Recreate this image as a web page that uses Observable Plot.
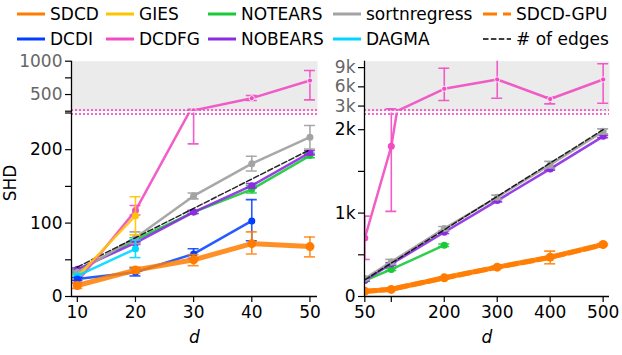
<!DOCTYPE html>
<html><head><meta charset="utf-8">
<script src="https://cdn.jsdelivr.net/npm/d3@7"></script>
<script src="https://cdn.jsdelivr.net/npm/@observablehq/plot@0.6"></script>
<style>
body{margin:0;background:#fff;}
#fig{position:relative;width:622px;height:355px;font-family:"DejaVu Sans",sans-serif;overflow:hidden;background:#fff;}
.pane{position:absolute;}
.pane svg{font-family:"DejaVu Sans",sans-serif !important;font-size:17px !important;}
.leg{position:absolute;font-size:17px;line-height:17px;white-space:nowrap;color:#000;}
.ylab{position:absolute;font-size:17px;transform:translate(-50%,-50%) rotate(-90deg);white-space:nowrap;}
</style></head><body><div id="fig"></div>
<script>
// ---------- data ----------
const legendOrder = ["SDCD","DCDI","GIES","DCDFG","NOTEARS","NOBEARS","sortnregress","DAGMA","SDCD-GPU","# of edges"];
const seriesColors = ["#ff7c00","#023eff","#ffc400","#f14cc1","#1ac938","#8b2be2","#a3a3a3","#00d7ff","#ff7c00","#000000"];

const dSmall = [10, 20, 30, 40, 50];
const dLarge = [50, 100, 200, 300, 400, 500];
const xTicksSmall = [10, 20, 30, 40, 50];
const xTicksLarge = [50, 100, 200, 300, 400, 500];

// left panel (d = 10..50)
const sdcdL = [15, 36, 50, 72, 68],        sdcdLLo = [11, 32, 42, 58, 54],      sdcdLHi = [19, 40, 57, 88, 81];
const dcdiL = [24, 33, 58, 103, null],     dcdiLLo = [22, 28, 52, 76, null],    dcdiLHi = [26, 39, 65, 132, null];
const giesL = [27, 110, null, null, null], giesLLo = [25, 84, null, null, null], giesLHi = [29, 136, null, null, null];
const dcdfgL = [20, 117, 262, 445, 710],   dcdfgLLo = [18, 111, 208, 410, 420], dcdfgLHi = [22, 124, 280, 485, 860];
const notearsL = [35, 77, 115, 146, 192],  notearsLLo = [33, 74, 113, 141, 189], notearsLHi = [37, 80, 117, 151, 195];
const nobearsL = [37, 73, 115, 151, 196],  nobearsLLo = [35, 71, 113, 148, 193], nobearsLHi = [39, 75, 117, 154, 199];
const sortL = [33, 80, 137, 181, 217],     sortLLo = [31, 72, 133, 171, 201],   sortLHi = [35, 88, 141, 191, 233];
const dagmaL = [28, 65, null, null, null], dagmaLLo = [26, 53, null, null, null], dagmaLHi = [30, 77, null, null, null];
const edgesL = [40, 80, 120, 160, 200];

// right panel (d = 50..500)
const sdcdR = [64, 85, 224, 352, 472, 624],   sdcdRLo = [58, 78, 214, 340, 392, 612], sdcdRHi = [70, 92, 234, 364, 544, 636];
const gpuR = [60, 88, 222, 350, 468, 620];
const notearsR = [192, 325, 615, null, null, null], notearsRLo = [185, 312, 600, null, null, null], notearsRHi = [199, 338, 630, null, null, null];
const nobearsR = [195, 390, 770, 1150, 1530, 1920], nobearsRLo = [182, 375, 755, 1135, 1515, 1905], nobearsRHi = [208, 405, 785, 1165, 1545, 1935];
const sortR = [215, 415, 815, 1190, 1580, 1980],    sortRLo = [200, 385, 790, 1165, 1540, 1950], sortRHi = [230, 445, 840, 1215, 1620, 2010];
const dcdfgR = [700, 1800, 5700, 7150, 4100, 7150], dcdfgRLo = [444, 1020, 3870, 4230, 3350, 3450], dcdfgRHi = [964, 2570, 8900, 10500, 4380, 9600];
const edgesR = [200, 400, 800, 1200, 1600, 2000];

// ---------- helpers ----------
const colorOf = Object.fromEntries(legendOrder.map((m, i) => [m, seriesColors[i]]));
const PINK = colorOf["DCDFG"];
const FS = 17;
const look = {
  "SDCD": {w: 5, r: 4.5, op: 0.85},
  "SDCD-GPU": {w: 5, r: 0, op: 0.9, dash: "11,5"},
  "DCDI": {w: 2.5, r: 3.5, op: 0.85},
  "GIES": {w: 2.5, r: 3.5, op: 0.9},
  "DCDFG": {w: 2.5, r: 3.5, op: 0.9},
  "NOTEARS": {w: 2.5, r: 3.5, op: 0.9},
  "NOBEARS": {w: 2.5, r: 3.5, op: 0.9},
  "sortnregress": {w: 2.5, r: 3.5, op: 0.95},
  "DAGMA": {w: 2.5, r: 3.5, op: 0.9},
  "# of edges": {w: 1.5, r: 0, op: 0.85, dash: "5.5,2.4"}
};
function rows(d, mean, lo, hi) {
  return d.map((x, i) => ({d: x, mean: mean[i], lo: lo ? lo[i] : null, hi: hi ? hi[i] : null}))
          .filter(r => r.mean != null);
}
const leftSeries = [
  {name: "NOTEARS", rows: rows(dSmall, notearsL, notearsLLo, notearsLHi)},
  {name: "NOBEARS", rows: rows(dSmall, nobearsL, nobearsLLo, nobearsLHi)},
  {name: "sortnregress", rows: rows(dSmall, sortL, sortLLo, sortLHi)},
  {name: "# of edges", rows: rows(dSmall, edgesL)},
  {name: "DCDFG", rows: rows(dSmall, dcdfgL, dcdfgLLo, dcdfgLHi)},
  {name: "GIES", rows: rows(dSmall, giesL, giesLLo, giesLHi)},
  {name: "DAGMA", rows: rows(dSmall, dagmaL, dagmaLLo, dagmaLHi)},
  {name: "DCDI", rows: rows(dSmall, dcdiL, dcdiLLo, dcdiLHi)},
  {name: "SDCD", rows: rows(dSmall, sdcdL, sdcdLLo, sdcdLHi)}
];
const rightSeries = [
  {name: "NOTEARS", rows: rows(dLarge, notearsR, notearsRLo, notearsRHi)},
  {name: "NOBEARS", rows: rows(dLarge, nobearsR, nobearsRLo, nobearsRHi)},
  {name: "sortnregress", rows: rows(dLarge, sortR, sortRLo, sortRHi)},
  {name: "# of edges", rows: rows(dLarge, edgesR)},
  {name: "DCDFG", rows: rows(dLarge, dcdfgR, dcdfgRLo, dcdfgRHi)},
  {name: "SDCD", rows: rows(dLarge, sdcdR, sdcdRLo, sdcdRHi)},
  {name: "SDCD-GPU", rows: rows(dLarge, gpuR)}
];

function subplot(o) {
  const marks = [];
  if (o.top) marks.push(Plot.frame({fill: "#ebebeb", stroke: "none"}));
  marks.push(Plot.ruleY([o.breakVal], {stroke: PINK, strokeWidth: 2, strokeDasharray: "2,2", strokeOpacity: 0.85, dy: o.top ? -1.2 : 1}));
  for (const s of o.series) {
    const c = colorOf[s.name], L = look[s.name];
    marks.push(Plot.line(s.rows, {x: "d", y: "mean", stroke: c, strokeWidth: L.w, strokeOpacity: L.op,
      strokeDasharray: L.dash, strokeLinejoin: "round", clip: true}));
    const eb = s.rows.filter(r => r.lo != null);
    if (eb.length) {
      const bs = {stroke: c, strokeWidth: 1.6, strokeOpacity: L.op, clip: true};
      marks.push(Plot.ruleX(eb, {x: "d", y1: "lo", y2: "hi", ...bs}));
      marks.push(Plot.ruleY(eb, {x1: "d", x2: "d", y: "lo", insetLeft: -5.5, insetRight: -5.5, ...bs}));
      marks.push(Plot.ruleY(eb, {x1: "d", x2: "d", y: "hi", insetLeft: -5.5, insetRight: -5.5, ...bs}));
    }
    if (L.r) marks.push(Plot.dot(s.rows, {x: "d", y: "mean", r: o.top ? 2.6 : L.r, fill: c, fillOpacity: 1,
      stroke: o.top ? "white" : "none", strokeWidth: 0.8, clip: true}));
  }
  marks.push(Plot.axisY({ticks: o.yTicks, tickFormat: o.yFmt, tickSize: 6, tickPadding: 3, strokeWidth: 1.2,
    fill: o.top ? "#666" : "#000", label: null, fontSize: FS}));
  marks.push(Plot.ruleX([o.xDomain[0]], {strokeWidth: 1.3, insetBottom: o.top ? -2 : 0}));
  if (!o.top) {
    marks.push(Plot.axisX({ticks: o.xTicks, tickFormat: o.xFmt, tickSize: 6, tickPadding: 3, strokeWidth: 1.2, label: null, fontSize: FS}));
    marks.push(Plot.ruleY([o.yDomain[0]], {strokeWidth: 1.3}));
    marks.push(Plot.text(["d"], {text: d => d, frameAnchor: "bottom", dy: 46, fontStyle: "italic", fontSize: FS}));
  }
  return Plot.plot({
    width: o.width, height: o.height,
    marginLeft: o.mL, marginRight: o.mR, marginTop: o.mT, marginBottom: o.mB,
    x: {type: "linear", domain: o.xDomain, axis: o.top ? null : undefined},
    y: {type: "linear", domain: o.yDomain},
    style: {background: "transparent", overflow: "visible", color: "#000"},
    marks
  });
}

const fig = document.getElementById("fig");
function place(node, left, top, w, h) {
  const div = document.createElement("div");
  div.className = "pane";
  div.style.left = left + "px"; div.style.top = top + "px";
  div.style.width = w + "px"; div.style.height = h + "px";
  div.appendChild(node);
  fig.appendChild(div);
}

const xDomL = [9.0, 51.3], xDomR = [49.4, 512];
const fmtL = v => String(v);
const fmtR = v => v === 100 ? "" : String(v);

// left top
place(subplot({series: leftSeries, top: true, breakVal: 250, xDomain: xDomL, yDomain: [250, 1000],
  yTicks: [250, 500, 750, 1000], yFmt: v => v % 500 === 0 ? String(v) : "",
  width: 330, height: 64, mL: 71, mR: 13, mT: 12.7, mB: 1.3}), 0, 48, 330, 64);
// left bottom
place(subplot({series: leftSeries, top: false, breakVal: 250, xDomain: xDomL, yDomain: [0, 250],
  yTicks: [0, 50, 100, 150, 200, 250], yFmt: v => v % 100 === 0 ? String(v) : "",
  xTicks: xTicksSmall, xFmt: fmtL,
  width: 330, height: 243, mL: 71, mR: 13, mT: 0.5, mB: 59}), 0, 112, 330, 243);
// right top
place(subplot({series: rightSeries, top: true, breakVal: 2200, xDomain: xDomR, yDomain: [2200, 10000],
  yTicks: [3000, 6000, 9000], yFmt: v => (v / 1000) + "k",
  width: 322, height: 64, mL: 64, mR: 13, mT: 12.7, mB: 1.3}), 300, 48, 322, 64);
// right bottom
place(subplot({series: rightSeries, top: false, breakVal: 2200, xDomain: xDomR, yDomain: [0, 2200],
  yTicks: [0, 500, 1000, 1500, 2000], yFmt: v => v === 0 ? "0" : (v % 1000 === 0 ? (v / 1000) + "k" : ""),
  xTicks: xTicksLarge, xFmt: fmtR,
  width: 322, height: 243, mL: 64, mR: 13, mT: 0.5, mB: 59}), 300, 112, 322, 243);

// y label
const yl = document.createElement("div");
yl.className = "ylab"; yl.textContent = "SHD";
yl.style.left = "10px"; yl.style.top = "183px";
fig.appendChild(yl);

// legend
const legendX = [17, 106, 208, 333, 483];
const legendY = [14, 39];
legendOrder.forEach((name, i) => {
  const col = Math.floor(i / 2), row = i % 2;
  const L = look[name];
  const item = document.createElement("div");
  item.className = "leg";
  item.style.left = legendX[col] + "px";
  item.style.top = (legendY[row] - 9) + "px";
  const lw = name === "# of edges" ? 1.5 : 3;
  const sw = `<svg width="28" height="18" style="vertical-align:top;margin-right:5px"><line x1="0" x2="28" y1="9" y2="9" stroke="${colorOf[name]}" stroke-width="${lw}" ${L.dash ? `stroke-dasharray="${name === '# of edges' ? '5.5,2.4' : '14,6'}"` : ""}/></svg>`;
  item.innerHTML = sw + `<span style="vertical-align:top;line-height:18px">${name.replace("#", "&#35;")}</span>`;
  fig.appendChild(item);
});
</script></body></html>
